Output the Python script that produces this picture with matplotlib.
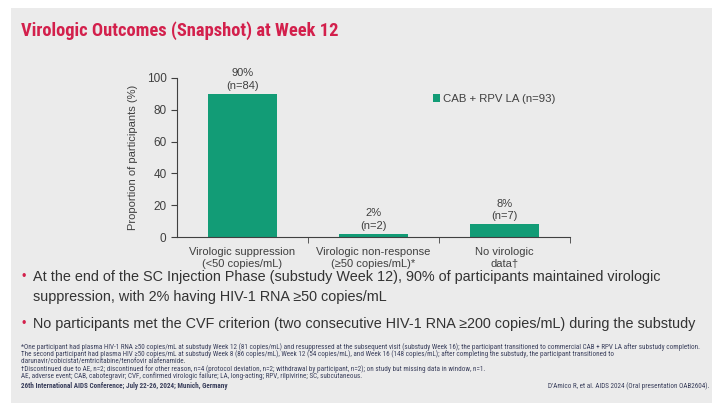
import matplotlib
matplotlib.use("Agg")
import matplotlib.pyplot as plt
from matplotlib.patches import Rectangle

plt.rcParams["font.family"] = ["Liberation Sans", "DejaVu Sans"]
NARROW = ["Roboto Condensed", "DejaVu Sans"]

categories = ["Virologic suppression\n(<50 copies/mL)",
              "Virologic non-response\n(\u226550 copies/mL)*",
              "No virologic\ndata\u2020"]
values = [90, 2, 8]
counts = [84, 2, 7]
series_label = "CAB + RPV LA (n=93)"

GREEN = "#129c76"
RED = "#d3204c"
BG = "#ebebeb"
TXT = "#404040"

fig = plt.figure(figsize=(7.26, 4.12), dpi=100)
fig.patch.set_facecolor("white")
W, H = 726, 412


def fx(x):
    return x / W


def fy(y):
    return 1 - y / H


fig.patches.append(Rectangle((fx(11), fy(403)), fx(712) - fx(11), fy(8) - fy(403),
                             transform=fig.transFigure, facecolor=BG, edgecolor="none", zorder=-5))

fig.text(fx(21), fy(31), "Virologic Outcomes (Snapshot) at Week 12", color=RED,
         fontsize=13.3, va="center", ha="left", family=NARROW, fontweight="bold")

ax = fig.add_axes([fx(177), fy(237), fx(570) - fx(177), fy(78) - fy(237)])
ax.set_facecolor("none")
x = range(len(categories))
bars = ax.bar(x, values, width=0.53, color=GREEN, label=series_label)
for xi, v, n in zip(x, values, counts):
    ax.text(xi, v + 2, f"{v}%\n(n={n})", ha="center", va="bottom", fontsize=8,
            color=TXT, linespacing=1.3)
ax.set_xlim(-0.5, 2.5)
ax.set_ylim(0, 100)
ax.set_yticks([0, 20, 40, 60, 80, 100])
ax.set_xticks(list(x))
ax.set_xticklabels(categories, fontsize=8, color=TXT, linespacing=1.3)
ax.set_xticks([0.5, 1.5, 2.5], minor=True)
ax.tick_params(axis="x", which="major", length=0, pad=7)
ax.tick_params(axis="x", which="minor", length=4, direction="out", color=TXT)
ax.tick_params(axis="y", length=4, direction="out", labelsize=8.5, labelcolor=TXT, color=TXT)
for s in ["top", "right"]:
    ax.spines[s].set_visible(False)
for s in ["left", "bottom"]:
    ax.spines[s].set_color(TXT)
ax.set_ylabel("Proportion of participants (%)", fontsize=8, color=TXT, labelpad=6)

leg = ax.legend(loc="upper left", bbox_to_anchor=(0.651, 0.90), frameon=False,
                fontsize=8.2, handlelength=0.6, handleheight=0.6, handletextpad=0.3,
                borderaxespad=0, borderpad=0)
for t in leg.get_texts():
    t.set_color(TXT)

bullet_lines = [
    (277, True, "At the end of the SC Injection Phase (substudy Week 12), 90% of participants maintained virologic"),
    (297, False, "suppression, with 2% having HIV-1 RNA \u226550 copies/mL"),
    (324, True, "No participants met the CVF criterion (two consecutive HIV-1 RNA \u2265200 copies/mL) during the substudy"),
]
for y, dot, line in bullet_lines:
    if dot:
        fig.text(fx(21), fy(y), "\u2022", color=RED, fontsize=9, va="center", ha="left")
    fig.text(fx(33), fy(y), line, color="#333333", fontsize=10.4, va="center", ha="left")

footnotes = [
    "*One participant had plasma HIV-1 RNA \u226550 copies/mL at substudy Week 12 (81 copies/mL) and resuppressed at the subsequent visit (substudy Week 16); the participant transitioned to commercial CAB + RPV LA after substudy completion.",
    "The second participant had plasma HIV \u226550 copies/mL at substudy Week 8 (86 copies/mL), Week 12 (54 copies/mL), and Week 16 (148 copies/mL); after completing the substudy, the participant transitioned to",
    "darunavir/cobicistat/emtricitabine/tenofovir alafenamide.",
    "\u2020Discontinued due to AE, n=2; discontinued for other reason, n=4 (protocol deviation, n=2; withdrawal by participant, n=2); on study but missing data in window, n=1.",
    "AE, adverse event; CAB, cabotegravir; CVF, confirmed virologic failure; LA, long-acting; RPV, rilpivirine; SC, subcutaneous.",
]
for i, line in enumerate(footnotes):
    fig.text(fx(21), fy(347 + i * 7.3), line, color="#3a3f5c", fontsize=5.15, va="center", ha="left",
             family=NARROW)

fig.text(fx(21), fy(386), "26th International AIDS Conference; July 22-26, 2024; Munich, Germany",
         color="#3a3f5c", fontsize=5.15, fontweight="bold", va="center", ha="left", family=NARROW)
fig.text(fx(709), fy(386), "D'Amico R, et al. AIDS 2024 (Oral presentation OAB2604).",
         color="#3a3f5c", fontsize=5.15, va="center", ha="right", family=NARROW)

fig.savefig("out.png", dpi=100, facecolor=fig.get_facecolor())
